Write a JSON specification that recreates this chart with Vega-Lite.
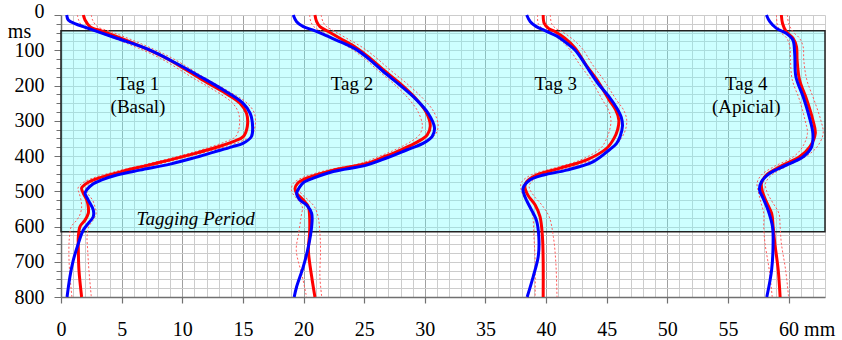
{
  "$schema": "https://vega.github.io/schema/vega-lite/v6.json",
  "width": 764,
  "height": 282,
  "autosize": {"type": "none"},
  "padding": {"left": 61, "top": 15, "right": 17, "bottom": 43},
  "background": "white",
  "config": {"view": {"stroke": null}, "font": "Liberation Serif"},
  "resolve": {"axis": {"x": "independent", "y": "independent"}},
  "datasets": {
    "period": [{"x1": 0, "x2": 63, "t1": 45, "t2": 615}],
    "red": [
      {"k":1,"t":0,"x":1.84,"lo":1.35,"hi":2.5},
      {"k":1,"t":14,"x":1.98,"lo":1.45,"hi":2.6},
      {"k":1,"t":33,"x":2.39,"lo":1.8,"hi":3.0},
      {"k":1,"t":47,"x":3.49,"lo":2.9,"hi":4.1},
      {"k":1,"t":80,"x":5.96,"lo":5.4,"hi":6.5},
      {"k":1,"t":123,"x":8.71,"lo":8.2,"hi":9.2},
      {"k":1,"t":180,"x":11.46,"lo":10.95,"hi":11.95},
      {"k":1,"t":218,"x":13.38,"lo":12.85,"hi":13.9},
      {"k":1,"t":250,"x":14.76,"lo":14.15,"hi":15.35},
      {"k":1,"t":279,"x":15.3,"lo":14.65,"hi":15.95},
      {"k":1,"t":317,"x":15.36,"lo":14.7,"hi":16.0},
      {"k":1,"t":345,"x":15.03,"lo":14.4,"hi":15.65},
      {"k":1,"t":359,"x":14.2,"lo":13.6,"hi":14.8},
      {"k":1,"t":378,"x":12.56,"lo":12.0,"hi":13.1},
      {"k":1,"t":394,"x":10.9,"lo":10.4,"hi":11.4},
      {"k":1,"t":411,"x":9.0,"lo":8.5,"hi":9.5},
      {"k":1,"t":428,"x":6.95,"lo":6.45,"hi":7.45},
      {"k":1,"t":444,"x":5.0,"lo":4.5,"hi":5.5},
      {"k":1,"t":463,"x":3.08,"lo":2.6,"hi":3.55},
      {"k":1,"t":477,"x":2.12,"lo":1.75,"hi":2.5},
      {"k":1,"t":491,"x":1.7,"lo":1.4,"hi":2.05},
      {"k":1,"t":506,"x":1.84,"lo":1.5,"hi":2.2},
      {"k":1,"t":525,"x":2.12,"lo":1.65,"hi":2.6},
      {"k":1,"t":544,"x":2.25,"lo":1.7,"hi":2.8},
      {"k":1,"t":563,"x":2.25,"lo":1.6,"hi":2.9},
      {"k":1,"t":582,"x":1.98,"lo":1.3,"hi":2.65},
      {"k":1,"t":600,"x":1.57,"lo":0.85,"hi":2.3},
      {"k":1,"t":629,"x":1.43,"lo":0.7,"hi":2.15},
      {"k":1,"t":667,"x":1.43,"lo":0.65,"hi":2.2},
      {"k":1,"t":723,"x":1.48,"lo":0.7,"hi":2.3},
      {"k":1,"t":800,"x":1.7,"lo":0.9,"hi":2.5},

      {"k":2,"t":0,"x":20.94,"lo":20.5,"hi":21.45},
      {"k":2,"t":19,"x":21.08,"lo":20.6,"hi":21.6},
      {"k":2,"t":33,"x":21.35,"lo":20.85,"hi":21.9},
      {"k":2,"t":47,"x":22.04,"lo":21.5,"hi":22.6},
      {"k":2,"t":66,"x":23.0,"lo":22.45,"hi":23.55},
      {"k":2,"t":94,"x":24.4,"lo":23.85,"hi":24.95},
      {"k":2,"t":123,"x":25.5,"lo":25.0,"hi":26.05},
      {"k":2,"t":156,"x":26.6,"lo":26.1,"hi":27.15},
      {"k":2,"t":194,"x":27.95,"lo":27.4,"hi":28.5},
      {"k":2,"t":235,"x":29.2,"lo":28.6,"hi":29.8},
      {"k":2,"t":275,"x":30.1,"lo":29.45,"hi":30.75},
      {"k":2,"t":315,"x":30.45,"lo":29.8,"hi":31.1},
      {"k":2,"t":340,"x":30.2,"lo":29.55,"hi":30.85},
      {"k":2,"t":360,"x":29.4,"lo":28.8,"hi":30.0},
      {"k":2,"t":383,"x":28.0,"lo":27.5,"hi":28.5},
      {"k":2,"t":400,"x":26.8,"lo":26.3,"hi":27.3},
      {"k":2,"t":421,"x":25.2,"lo":24.7,"hi":25.7},
      {"k":2,"t":440,"x":22.45,"lo":21.95,"hi":22.95},
      {"k":2,"t":463,"x":20.25,"lo":19.8,"hi":20.7},
      {"k":2,"t":478,"x":19.5,"lo":19.15,"hi":19.9},
      {"k":2,"t":492,"x":19.3,"lo":19.0,"hi":19.65},
      {"k":2,"t":506,"x":19.43,"lo":19.1,"hi":19.8},
      {"k":2,"t":525,"x":19.98,"lo":19.55,"hi":20.4},
      {"k":2,"t":544,"x":20.4,"lo":19.9,"hi":20.9},
      {"k":2,"t":572,"x":20.5,"lo":19.8,"hi":21.2},
      {"k":2,"t":619,"x":20.5,"lo":19.6,"hi":21.35},
      {"k":2,"t":667,"x":20.4,"lo":19.4,"hi":21.4},
      {"k":2,"t":742,"x":20.67,"lo":19.9,"hi":21.35},
      {"k":2,"t":800,"x":20.94,"lo":20.25,"hi":21.5},

      {"k":3,"t":0,"x":39.76,"lo":39.3,"hi":40.35},
      {"k":3,"t":24,"x":39.85,"lo":39.35,"hi":40.45},
      {"k":3,"t":38,"x":40.2,"lo":39.7,"hi":40.8},
      {"k":3,"t":47,"x":40.73,"lo":40.2,"hi":41.3},
      {"k":3,"t":66,"x":41.55,"lo":41.0,"hi":42.1},
      {"k":3,"t":94,"x":42.4,"lo":41.85,"hi":42.95},
      {"k":3,"t":142,"x":43.3,"lo":42.8,"hi":43.85},
      {"k":3,"t":184,"x":44.2,"lo":43.7,"hi":44.75},
      {"k":3,"t":241,"x":45.2,"lo":44.65,"hi":45.8},
      {"k":3,"t":270,"x":45.75,"lo":45.15,"hi":46.4},
      {"k":3,"t":298,"x":46.0,"lo":45.35,"hi":46.65},
      {"k":3,"t":325,"x":45.9,"lo":45.25,"hi":46.55},
      {"k":3,"t":350,"x":45.6,"lo":45.0,"hi":46.2},
      {"k":3,"t":378,"x":45.0,"lo":44.5,"hi":45.5},
      {"k":3,"t":411,"x":43.35,"lo":42.85,"hi":43.85},
      {"k":3,"t":435,"x":41.1,"lo":40.6,"hi":41.6},
      {"k":3,"t":454,"x":39.2,"lo":38.75,"hi":39.65},
      {"k":3,"t":473,"x":38.4,"lo":38.0,"hi":38.8},
      {"k":3,"t":487,"x":38.25,"lo":37.9,"hi":38.6},
      {"k":3,"t":511,"x":38.5,"lo":38.1,"hi":38.95},
      {"k":3,"t":539,"x":39.1,"lo":38.6,"hi":39.65},
      {"k":3,"t":572,"x":39.5,"lo":38.9,"hi":40.25},
      {"k":3,"t":629,"x":39.7,"lo":39.0,"hi":40.6},
      {"k":3,"t":700,"x":39.76,"lo":39.1,"hi":40.8},
      {"k":3,"t":800,"x":39.76,"lo":39.1,"hi":40.9},

      {"k":4,"t":0,"x":59.4,"lo":59.0,"hi":59.9},
      {"k":4,"t":24,"x":59.5,"lo":59.05,"hi":60.0},
      {"k":4,"t":47,"x":59.8,"lo":59.3,"hi":60.35},
      {"k":4,"t":66,"x":60.37,"lo":59.85,"hi":60.9},
      {"k":4,"t":90,"x":60.65,"lo":60.1,"hi":61.2},
      {"k":4,"t":128,"x":60.7,"lo":60.15,"hi":61.25},
      {"k":4,"t":184,"x":60.9,"lo":60.3,"hi":61.5},
      {"k":4,"t":241,"x":61.5,"lo":60.9,"hi":62.1},
      {"k":4,"t":298,"x":62.0,"lo":61.35,"hi":62.65},
      {"k":4,"t":336,"x":62.2,"lo":61.55,"hi":62.85},
      {"k":4,"t":374,"x":61.75,"lo":61.15,"hi":62.35},
      {"k":4,"t":402,"x":60.9,"lo":60.4,"hi":61.4},
      {"k":4,"t":430,"x":59.3,"lo":58.8,"hi":59.8},
      {"k":4,"t":454,"x":58.17,"lo":57.75,"hi":58.6},
      {"k":4,"t":477,"x":57.76,"lo":57.4,"hi":58.1},
      {"k":4,"t":501,"x":57.84,"lo":57.5,"hi":58.2},
      {"k":4,"t":530,"x":58.17,"lo":57.7,"hi":58.65},
      {"k":4,"t":563,"x":58.6,"lo":57.95,"hi":59.2},
      {"k":4,"t":600,"x":58.72,"lo":57.95,"hi":59.3},
      {"k":4,"t":647,"x":58.86,"lo":58.05,"hi":59.4},
      {"k":4,"t":723,"x":59.14,"lo":58.4,"hi":59.75},
      {"k":4,"t":800,"x":59.3,"lo":58.65,"hi":60.0}
    ],
    "blue": [
      {"k":1,"t":0,"x":0.47},{"k":1,"t":14,"x":0.6},{"k":1,"t":25,"x":1.2},{"k":1,"t":33,"x":1.84},
      {"k":1,"t":43,"x":2.66},{"k":1,"t":66,"x":4.6},{"k":1,"t":99,"x":7.3},{"k":1,"t":137,"x":9.5},
      {"k":1,"t":175,"x":11.5},{"k":1,"t":213,"x":13.4},{"k":1,"t":250,"x":15.0},{"k":1,"t":279,"x":15.6},
      {"k":1,"t":317,"x":15.8},{"k":1,"t":345,"x":15.7},{"k":1,"t":364,"x":15.0},{"k":1,"t":374,"x":14.1},
      {"k":1,"t":389,"x":12.6},{"k":1,"t":406,"x":10.9},{"k":1,"t":423,"x":9.0},{"k":1,"t":440,"x":6.5},
      {"k":1,"t":454,"x":4.6},{"k":1,"t":468,"x":3.36},{"k":1,"t":482,"x":2.53},{"k":1,"t":496,"x":2.12},
      {"k":1,"t":506,"x":1.98},{"k":1,"t":525,"x":2.25},{"k":1,"t":553,"x":2.66},{"k":1,"t":572,"x":2.66},
      {"k":1,"t":591,"x":2.25},{"k":1,"t":610,"x":1.84},{"k":1,"t":648,"x":1.43},{"k":1,"t":695,"x":1.02},
      {"k":1,"t":742,"x":0.74},{"k":1,"t":800,"x":0.5},

      {"k":2,"t":0,"x":19.15},{"k":2,"t":19,"x":19.43},{"k":2,"t":33,"x":19.98},{"k":2,"t":43,"x":20.8},
      {"k":2,"t":54,"x":21.6},{"k":2,"t":71,"x":22.7},{"k":2,"t":99,"x":24.4},{"k":2,"t":128,"x":25.5},
      {"k":2,"t":161,"x":26.6},{"k":2,"t":199,"x":27.95},{"k":2,"t":240,"x":29.3},{"k":2,"t":280,"x":30.3},
      {"k":2,"t":320,"x":30.8},{"k":2,"t":345,"x":30.6},{"k":2,"t":365,"x":29.8},{"k":2,"t":383,"x":28.5},
      {"k":2,"t":405,"x":26.9},{"k":2,"t":426,"x":25.2},{"k":2,"t":444,"x":22.45},{"k":2,"t":463,"x":20.8},
      {"k":2,"t":475,"x":20.0},{"k":2,"t":487,"x":19.7},{"k":2,"t":506,"x":19.43},{"k":2,"t":525,"x":19.7},
      {"k":2,"t":539,"x":20.25},{"k":2,"t":563,"x":20.67},{"k":2,"t":600,"x":20.67},{"k":2,"t":657,"x":20.4},
      {"k":2,"t":714,"x":19.98},{"k":2,"t":771,"x":19.43},{"k":2,"t":800,"x":19.23},

      {"k":3,"t":0,"x":38.4},{"k":3,"t":19,"x":38.7},{"k":3,"t":33,"x":39.2},{"k":3,"t":45,"x":39.95},
      {"k":3,"t":60,"x":40.9},{"k":3,"t":80,"x":41.7},{"k":3,"t":100,"x":42.4},{"k":3,"t":128,"x":43.0},
      {"k":3,"t":160,"x":43.6},{"k":3,"t":195,"x":44.3},{"k":3,"t":232,"x":45.2},{"k":3,"t":265,"x":45.85},
      {"k":3,"t":290,"x":46.2},{"k":3,"t":315,"x":46.3},{"k":3,"t":345,"x":46.1},{"k":3,"t":365,"x":45.8},
      {"k":3,"t":383,"x":45.2},{"k":3,"t":416,"x":43.9},{"k":3,"t":440,"x":41.7},{"k":3,"t":454,"x":39.8},
      {"k":3,"t":468,"x":38.66},{"k":3,"t":492,"x":38.1},{"k":3,"t":515,"x":38.25},{"k":3,"t":544,"x":38.66},
      {"k":3,"t":582,"x":39.2},{"k":3,"t":629,"x":39.4},{"k":3,"t":686,"x":39.35},{"k":3,"t":742,"x":38.94},
      {"k":3,"t":800,"x":38.44},

      {"k":4,"t":0,"x":58.17},{"k":4,"t":19,"x":58.45},{"k":4,"t":38,"x":59.0},{"k":4,"t":52,"x":59.8},
      {"k":4,"t":71,"x":60.35},{"k":4,"t":109,"x":60.5},{"k":4,"t":175,"x":60.6},{"k":4,"t":232,"x":61.2},
      {"k":4,"t":289,"x":61.7},{"k":4,"t":336,"x":62.0},{"k":4,"t":374,"x":61.9},{"k":4,"t":402,"x":61.2},
      {"k":4,"t":426,"x":59.8},{"k":4,"t":449,"x":58.45},{"k":4,"t":473,"x":57.76},{"k":4,"t":496,"x":57.6},
      {"k":4,"t":520,"x":57.9},{"k":4,"t":553,"x":58.3},{"k":4,"t":600,"x":58.67},{"k":4,"t":647,"x":58.72},
      {"k":4,"t":723,"x":58.6},{"k":4,"t":800,"x":58.2}
    ],
    "labels": [
      {"x":6.35,"t":212,"s":"Tag 1"},
      {"x":6.35,"t":279,"s":"(Basal)"},
      {"x":24.0,"t":212,"s":"Tag 2"},
      {"x":40.8,"t":212,"s":"Tag 3"},
      {"x":56.5,"t":212,"s":"Tag 4"},
      {"x":56.5,"t":279,"s":"(Apicial)"}
    ],
    "plabel": [{"x":11.1,"t":596,"s":"Tagging Period"}]
  },
  "layer": [
    {
      "data": {"name": "period"},
      "mark": {"type": "rect", "fill": "#66ffff", "fillOpacity": 0.33, "stroke": "#222222", "strokeWidth": 1.5},
      "encoding": {
        "x": {
          "field": "x1", "type": "quantitative", "title": null,
          "scale": {"domain": [0, 63], "nice": false, "zero": false},
          "axis": {
            "orient": "bottom",
            "values": [0,5,10,15,20,25,30,35,40,45,50,55,60],
            "grid": true, "gridColor": "#a0a0a0", "gridWidth": 1,
            "domainColor": "#707070", "domainWidth": 1.5,
            "tickColor": "#707070", "tickSize": 6, "tickWidth": 1.2,
            "labelExpr": "datum.value == 60 ? '60 mm' : datum.label",
            "labelAlign": {"condition": {"test": "datum.value == 60", "value": "left"}, "value": "center"},
            "labelOffset": {"condition": {"test": "datum.value == 60", "value": -10}, "value": 0},
            "labelFont": "Liberation Serif", "labelFontSize": 20, "labelColor": "#000000",
            "labelPadding": 16, "labelFlush": false, "labelOverlap": false, "labelBound": false
          }
        },
        "x2": {"field": "x2"},
        "y": {
          "field": "t1", "type": "quantitative", "title": "ms",
          "scale": {"domain": [0, 800], "nice": false, "zero": false, "reverse": true},
          "axis": {
            "orient": "left",
            "values": [0,100,200,300,400,500,600,700,800],
            "grid": true, "gridColor": "#cccccc", "gridWidth": 1,
            "domainColor": "#707070", "domainWidth": 1.5,
            "tickColor": "#707070", "tickWidth": 1, "tickSize": 7,
            "labelOffset": {"condition": {"test": "datum.value == 0", "value": -4}, "value": 0},
            "labelFont": "Liberation Serif", "labelFontSize": 20, "labelColor": "#000000",
            "labelPadding": 10, "labelOverlap": false, "labelFlush": false, "labelBound": false,
            "titleAngle": 0, "titleX": -42, "titleY": 22, "titleAlign": "center", "titleBaseline": "alphabetic",
            "titleFont": "Liberation Serif", "titleFontSize": 20, "titleFontWeight": "normal", "titleColor": "#000000"
          }
        },
        "y2": {"field": "t2"}
      }
    },
    {
      "data": {"name": "red"},
      "mark": {"type": "line", "color": "#ff5a5a", "strokeWidth": 1, "strokeDash": [2, 2], "interpolate": "catmull-rom"},
      "encoding": {
        "x": {"field": "lo", "type": "quantitative", "title": null,
          "axis": {"orient": "bottom", "values": [1,2,3,4,6,7,8,9,11,12,13,14,16,17,18,19,21,22,23,24,26,27,28,29,31,32,33,34,36,37,38,39,41,42,43,44,46,47,48,49,51,52,53,54,56,57,58,59,61,62,63],
            "grid": true, "gridColor": "#cccccc", "gridWidth": 1, "ticks": false, "labels": false, "domain": false}},
        "y": {"field": "t", "type": "quantitative", "title": null,
          "axis": {"orient": "left", "values": [25,50,75,125,150,175,225,250,275,325,350,375,425,450,475,525,550,575,625,650,675,725,750,775],
            "grid": true, "gridColor": "#cccccc", "gridWidth": 1, "ticks": true, "tickSize": 5, "tickColor": "#707070", "labels": false, "domain": false}},
        "order": {"field": "t", "type": "quantitative"},
        "detail": {"field": "k"}
      }
    },
    {
      "data": {"name": "red"},
      "mark": {"type": "line", "color": "#ff5a5a", "strokeWidth": 1, "strokeDash": [2, 2], "interpolate": "catmull-rom"},
      "encoding": {
        "x": {"field": "hi", "type": "quantitative", "axis": null},
        "y": {"field": "t", "type": "quantitative", "axis": null},
        "order": {"field": "t", "type": "quantitative"},
        "detail": {"field": "k"}
      }
    },
    {
      "data": {"name": "red"},
      "mark": {"type": "line", "color": "#ff0000", "strokeWidth": 3, "interpolate": "catmull-rom"},
      "encoding": {
        "x": {"field": "x", "type": "quantitative", "axis": null},
        "y": {"field": "t", "type": "quantitative", "axis": null},
        "order": {"field": "t", "type": "quantitative"},
        "detail": {"field": "k"}
      }
    },
    {
      "data": {"name": "blue"},
      "mark": {"type": "line", "color": "#0000ff", "strokeWidth": 3, "interpolate": "catmull-rom"},
      "encoding": {
        "x": {"field": "x", "type": "quantitative", "axis": null},
        "y": {"field": "t", "type": "quantitative", "axis": null},
        "order": {"field": "t", "type": "quantitative"},
        "detail": {"field": "k"}
      }
    },
    {
      "data": {"name": "labels"},
      "mark": {"type": "text", "font": "Liberation Serif", "fontSize": 19, "align": "center", "baseline": "alphabetic", "color": "#000000"},
      "encoding": {
        "x": {"field": "x", "type": "quantitative", "axis": null},
        "y": {"field": "t", "type": "quantitative", "axis": null},
        "text": {"field": "s"}
      }
    },
    {
      "data": {"name": "plabel"},
      "mark": {"type": "text", "font": "Liberation Serif", "fontSize": 19, "fontStyle": "italic", "align": "center", "baseline": "alphabetic", "color": "#000000"},
      "encoding": {
        "x": {"field": "x", "type": "quantitative", "axis": null},
        "y": {"field": "t", "type": "quantitative", "axis": null},
        "text": {"field": "s"}
      }
    }
  ]
}
